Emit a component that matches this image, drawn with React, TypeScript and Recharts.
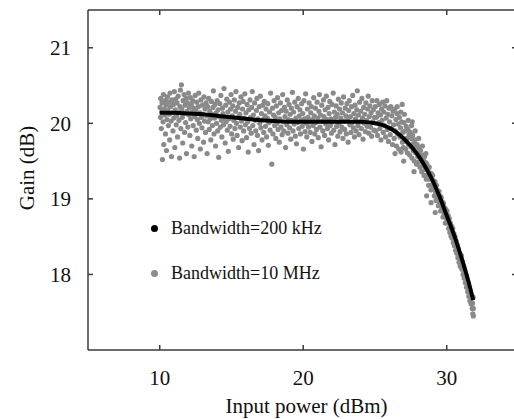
import React from 'react';
import { ComposedChart, Scatter, XAxis, YAxis } from 'recharts';

// Bandwidth = 200 kHz (dense trace, drawn as a thick curve)
const narrowBand: [number, number][] = [
    [10, 20.14], [11, 20.14], [12, 20.13], [13, 20.12], [14, 20.1], [15, 20.08], [16, 20.06], [17, 20.04],
    [18, 20.03], [19, 20.02], [20, 20.02], [21, 20.02], [22, 20.02], [23, 20.02], [24, 20.02], [25, 20.0],
    [25.5, 19.98], [26, 19.94], [26.5, 19.88], [27, 19.8], [27.5, 19.7], [28, 19.58], [28.5, 19.43], [29, 19.25],
    [29.5, 19.03], [30, 18.78], [30.5, 18.53], [31, 18.24], [31.5, 17.92], [31.85, 17.66],
];

// Bandwidth = 10 MHz scatter, 10-12.5 dBm
const wideBandA: [number, number][] = [
    [10.02, 20.21], [10.05, 20.08], [10.07, 20.33], [10.11, 19.93], [10.14, 20.15], [10.16, 20.27], [10.19, 19.52], [10.23, 20.02],
    [10.26, 20.38], [10.28, 19.72], [10.31, 20.19], [10.35, 20.11], [10.38, 20.3], [10.4, 19.86], [10.44, 20.24], [10.47, 19.64],
    [10.5, 20.05], [10.53, 20.35], [10.56, 20.17], [10.6, 19.97], [10.62, 20.28], [10.66, 20.12], [10.69, 19.78], [10.72, 20.4],
    [10.75, 20.22], [10.79, 20.03], [10.82, 19.56], [10.85, 20.31], [10.88, 20.14], [10.92, 19.9], [10.95, 20.25], [10.98, 20.07],
    [11.02, 20.42], [11.05, 19.68], [11.08, 20.18], [11.11, 20.32], [11.15, 19.98], [11.18, 20.1], [11.21, 20.27], [11.24, 19.82],
    [11.28, 20.36], [11.31, 20.15], [11.34, 20.04], [11.38, 19.54], [11.41, 20.22], [11.44, 20.44], [11.47, 19.93], [11.51, 20.51],
    [11.54, 20.19], [11.57, 20.08], [11.6, 19.74], [11.63, 20.3], [11.67, 20.13], [11.7, 20.38], [11.73, 19.88], [11.76, 20.24],
    [11.8, 20.01], [11.83, 20.33], [11.86, 19.6], [11.9, 20.16], [11.93, 20.27], [11.96, 19.95], [12.0, 20.4], [12.03, 20.11],
    [12.06, 20.21], [12.1, 19.84], [12.13, 20.34], [12.16, 20.06], [12.2, 20.25], [12.23, 19.7], [12.27, 20.15], [12.3, 20.3],
    [12.33, 19.97], [12.37, 20.2], [12.4, 19.56], [12.44, 20.09], [12.47, 20.37],
];

// 12.5-16 dBm
const wideBandB: [number, number][] = [
    [12.51, 20.17], [12.55, 19.91], [12.58, 20.28], [12.62, 20.05], [12.65, 19.8], [12.69, 20.22], [12.72, 20.4], [12.76, 20.0],
    [12.8, 20.14], [12.83, 19.66], [12.87, 20.31], [12.9, 20.08], [12.94, 19.94], [12.98, 20.24], [13.01, 20.12], [13.05, 19.75],
    [13.08, 20.35], [13.12, 20.03], [13.16, 20.19], [13.19, 19.88], [13.23, 20.27], [13.27, 20.1], [13.3, 19.6], [13.34, 20.22],
    [13.38, 20.02], [13.41, 20.33], [13.45, 19.92], [13.49, 20.16], [13.52, 20.06], [13.56, 19.78], [13.6, 20.29], [13.63, 20.12],
    [13.67, 19.97], [13.71, 20.21], [13.74, 20.43], [13.78, 19.86], [13.82, 20.07], [13.85, 20.25], [13.89, 19.7], [13.93, 20.14],
    [13.96, 20.0], [14.0, 20.3], [14.04, 19.9], [14.07, 20.18], [14.11, 19.55], [14.15, 20.09], [14.19, 20.26], [14.22, 19.95],
    [14.26, 20.37], [14.3, 20.04], [14.33, 19.82], [14.37, 20.2], [14.41, 20.13], [14.45, 19.98], [14.48, 20.46], [14.52, 20.08],
    [14.56, 19.74], [14.6, 20.24], [14.63, 20.02], [14.67, 20.32], [14.71, 19.91], [14.75, 20.15], [14.78, 19.63], [14.82, 20.06],
    [14.86, 20.28], [14.9, 19.96], [14.94, 20.19], [14.97, 20.38], [15.01, 19.86], [15.05, 20.1], [15.09, 20.23], [15.12, 19.79],
    [15.16, 20.04], [15.2, 20.31], [15.24, 19.93], [15.28, 20.16], [15.31, 20.42], [15.35, 20.0], [15.39, 19.84], [15.43, 20.21],
    [15.47, 20.08], [15.5, 19.68], [15.54, 20.27], [15.58, 20.12], [15.62, 19.95], [15.66, 20.35], [15.7, 20.03], [15.74, 19.77],
    [15.77, 20.19], [15.81, 20.29], [15.85, 19.9], [15.89, 20.07], [15.93, 20.39], [15.97, 19.98],
];

// 16-20.5 dBm
const wideBandC: [number, number][] = [
    [16.01, 20.14], [16.05, 19.81], [16.09, 20.25], [16.13, 20.02], [16.17, 19.62], [16.21, 20.18], [16.25, 19.93], [16.29, 20.31],
    [16.33, 20.08], [16.37, 19.87], [16.41, 20.21], [16.45, 20.42], [16.49, 19.97], [16.53, 20.11], [16.57, 19.72], [16.61, 20.27],
    [16.65, 20.04], [16.69, 19.9], [16.73, 20.17], [16.77, 20.33], [16.81, 19.84], [16.85, 20.06], [16.89, 19.64], [16.93, 20.22],
    [16.97, 20.0], [17.01, 20.36], [17.05, 19.94], [17.09, 20.13], [17.13, 19.78], [17.17, 20.24], [17.21, 20.05], [17.25, 19.88],
    [17.29, 20.29], [17.33, 20.1], [17.37, 19.96], [17.41, 20.19], [17.45, 19.82], [17.49, 20.07], [17.53, 20.26], [17.57, 19.71],
    [17.61, 20.01], [17.65, 20.15], [17.69, 19.91], [17.73, 20.4], [17.77, 20.03], [17.81, 19.46], [17.85, 20.2], [17.89, 19.86],
    [17.93, 20.11], [17.97, 20.3], [18.01, 19.97], [18.05, 20.08], [18.09, 19.8], [18.13, 20.23], [18.17, 20.0], [18.21, 20.34],
    [18.25, 19.92], [18.29, 20.14], [18.33, 19.75], [18.37, 20.06], [18.41, 20.27], [18.45, 19.95], [18.49, 20.17], [18.53, 19.85],
    [18.57, 20.38], [18.61, 20.02], [18.65, 19.9], [18.69, 20.21], [18.73, 20.09], [18.77, 19.68], [18.81, 20.16], [18.85, 19.98],
    [18.89, 20.31], [18.93, 19.87], [18.97, 20.05], [19.01, 20.25], [19.05, 19.94], [19.09, 20.12], [19.13, 19.79], [19.17, 20.2],
    [19.21, 20.04], [19.25, 20.41], [19.29, 19.9], [19.33, 20.15], [19.37, 19.99], [19.41, 20.28], [19.45, 19.83], [19.49, 20.07],
    [19.53, 19.73], [19.57, 20.22], [19.61, 20.01], [19.65, 20.33], [19.69, 19.93], [19.73, 20.1], [19.77, 20.18], [19.81, 19.86],
    [19.85, 20.04], [19.89, 20.26], [19.93, 19.96], [19.97, 20.13], [20.01, 19.66], [20.05, 20.3], [20.09, 20.06], [20.13, 19.89],
    [20.17, 20.39], [20.21, 20.0], [20.25, 19.82], [20.29, 20.19], [20.33, 20.08], [20.37, 19.95], [20.41, 20.27], [20.45, 20.02],
];

// 20.5-25 dBm
const wideBandD: [number, number][] = [
    [20.49, 19.88], [20.53, 20.14], [20.57, 20.22], [20.61, 19.76], [20.65, 20.05], [20.69, 19.97], [20.73, 20.34], [20.77, 20.1],
    [20.81, 19.86], [20.85, 20.2], [20.89, 20.01], [20.93, 19.92], [20.97, 20.28], [21.01, 20.07], [21.05, 19.81], [21.09, 20.16],
    [21.13, 20.38], [21.17, 19.95], [21.21, 20.11], [21.25, 19.69], [21.29, 20.24], [21.33, 20.03], [21.37, 19.9], [21.41, 20.31],
    [21.45, 20.09], [21.49, 19.84], [21.53, 20.18], [21.57, 19.99], [21.61, 20.36], [21.65, 20.05], [21.69, 19.93], [21.73, 20.21],
    [21.77, 19.78], [21.81, 20.13], [21.85, 20.29], [21.89, 19.97], [21.93, 20.06], [21.97, 19.87], [22.01, 20.25], [22.05, 20.02],
    [22.09, 20.4], [22.13, 19.91], [22.17, 20.15], [22.21, 19.72], [22.25, 20.08], [22.29, 20.23], [22.33, 19.96], [22.37, 20.12],
    [22.41, 19.83], [22.45, 20.32], [22.49, 20.0], [22.53, 20.19], [22.57, 19.89], [22.61, 20.07], [22.65, 20.27], [22.69, 19.95],
    [22.73, 20.14], [22.77, 19.8], [22.81, 20.35], [22.85, 20.03], [22.89, 19.92], [22.93, 20.2], [22.97, 20.1], [23.01, 19.86],
    [23.05, 20.26], [23.09, 20.04], [23.13, 19.75], [23.17, 20.17], [23.21, 20.3], [23.25, 19.98], [23.29, 20.09], [23.33, 19.88],
    [23.37, 20.22], [23.41, 20.01], [23.45, 20.37], [23.49, 19.94], [23.53, 20.13], [23.57, 19.82], [23.61, 20.24], [23.65, 20.06],
    [23.69, 19.9], [23.73, 20.18], [23.77, 20.43], [23.81, 19.97], [23.85, 20.11], [23.89, 19.85], [23.93, 20.28], [23.97, 20.02],
    [24.01, 20.16], [24.05, 19.93], [24.09, 20.33], [24.13, 20.07], [24.17, 19.79], [24.21, 20.21], [24.25, 20.0], [24.29, 20.12],
    [24.33, 19.89], [24.37, 20.27], [24.41, 20.04], [24.45, 19.96], [24.49, 20.19], [24.53, 20.36], [24.57, 19.87], [24.61, 20.09],
    [24.65, 20.23], [24.69, 19.95], [24.73, 20.14], [24.77, 19.83], [24.81, 20.3], [24.85, 20.02], [24.89, 20.18], [24.93, 19.91],
    [24.97, 20.08],
];

// knee 25-27 dBm
const wideBandE: [number, number][] = [
    [25.02, 20.22], [25.06, 19.9], [25.1, 20.08], [25.14, 20.3], [25.18, 19.84], [25.22, 20.14], [25.26, 20.01], [25.3, 20.25],
    [25.34, 19.93], [25.38, 20.11], [25.42, 19.78], [25.46, 20.19], [25.5, 20.04], [25.54, 20.28], [25.58, 19.88], [25.62, 20.15],
    [25.66, 19.97], [25.7, 20.23], [25.74, 19.82], [25.78, 20.07], [25.82, 20.3], [25.86, 19.92], [25.9, 20.12], [25.94, 19.76],
    [25.98, 20.2], [26.02, 20.02], [26.06, 19.85], [26.1, 20.22], [26.14, 19.93], [26.18, 20.1], [26.22, 19.72], [26.26, 20.16],
    [26.3, 19.98], [26.34, 19.8], [26.38, 20.19], [26.4, 19.6], [26.42, 19.9], [26.46, 20.05], [26.5, 19.7], [26.54, 20.13],
    [26.55, 20.22], [26.58, 19.86], [26.62, 19.99], [26.66, 19.66], [26.7, 20.08], [26.74, 19.82], [26.78, 19.94], [26.8, 20.15],
    [26.82, 19.62], [26.86, 20.02], [26.9, 20.25], [26.92, 19.75], [26.94, 19.88], [26.98, 19.68],
];

// compression 27-32 dBm
const wideBandF: [number, number][] = [
    [27.0, 19.5], [27.02, 20.01], [27.05, 20.12], [27.06, 19.76], [27.1, 19.9], [27.14, 19.66], [27.18, 19.96], [27.22, 19.8],
    [27.26, 19.61], [27.3, 19.92], [27.32, 20.04], [27.34, 19.72], [27.38, 19.85], [27.42, 19.58], [27.46, 19.88], [27.5, 19.69],
    [27.54, 19.8], [27.55, 19.97], [27.58, 19.54], [27.6, 20.02], [27.62, 19.84], [27.66, 19.64], [27.7, 19.74], [27.72, 19.36],
    [27.74, 19.5], [27.78, 19.78], [27.8, 19.9], [27.82, 19.61], [27.86, 19.7], [27.9, 19.46], [27.94, 19.72], [27.98, 19.56],
    [28.02, 19.68], [28.05, 19.8], [28.06, 19.49], [28.1, 19.62], [28.14, 19.42], [28.18, 19.64], [28.22, 19.51], [28.26, 19.36],
    [28.3, 19.58], [28.31, 19.7], [28.34, 19.44], [28.38, 19.53], [28.42, 19.31], [28.46, 19.56], [28.5, 19.39], [28.54, 19.48],
    [28.55, 19.6], [28.58, 19.26], [28.6, 19.04], [28.62, 19.46], [28.66, 19.32], [28.7, 19.4], [28.74, 19.18], [28.78, 19.42],
    [28.82, 19.26], [28.86, 19.34], [28.9, 19.12], [28.91, 18.95], [28.94, 19.33], [28.98, 19.19], [29.02, 19.31], [29.06, 19.14],
    [29.1, 19.24], [29.14, 19.04], [29.18, 19.23], [29.2, 18.82], [29.22, 19.09], [29.26, 18.98], [29.3, 19.18], [29.34, 19.03],
    [29.38, 19.11], [29.42, 18.91], [29.46, 19.1], [29.5, 18.96], [29.54, 19.04], [29.58, 18.84], [29.62, 19.02], [29.66, 18.89],
    [29.7, 18.96], [29.74, 18.76], [29.78, 18.94], [29.82, 18.8], [29.86, 18.88], [29.9, 18.68], [29.94, 18.86], [29.98, 18.74],
    [30.02, 18.84], [30.06, 18.68], [30.1, 18.78], [30.14, 18.61], [30.18, 18.74], [30.22, 18.56], [30.26, 18.68], [30.3, 18.51],
    [30.34, 18.64], [30.38, 18.48], [30.42, 18.61], [30.46, 18.42], [30.5, 18.54], [30.54, 18.38], [30.58, 18.5], [30.62, 18.32],
    [30.66, 18.44], [30.7, 18.28], [30.74, 18.39], [30.78, 18.22], [30.82, 18.34], [30.86, 18.16], [30.9, 18.28], [30.94, 18.11],
    [30.98, 18.22], [31.02, 18.25], [31.06, 18.07], [31.1, 18.17], [31.14, 18.0], [31.18, 18.11], [31.22, 17.95], [31.26, 18.05],
    [31.3, 17.89], [31.34, 17.99], [31.38, 17.83], [31.42, 17.93], [31.46, 17.77], [31.5, 17.87], [31.54, 17.71], [31.58, 17.81],
    [31.62, 17.65], [31.66, 17.75], [31.7, 17.61], [31.74, 17.69], [31.78, 17.55], [31.8, 17.62], [31.82, 17.48], [31.84, 17.7],
    [31.86, 17.55], [31.86, 17.45],
];

const xTicks = [10, 20, 30];
const yTicks = [18, 19, 20, 21];
const legendItems = [
    { label: 'Bandwidth=200 kHz', color: '#000' },
    { label: 'Bandwidth=10 MHz', color: '#8c8c8c' },
];

const FONT = '"Liberation Serif", "Times New Roman", serif';
const AXIS = '#3a3a3a';
const X_DOMAIN: [number, number] = [5, 34.9];
const Y_DOMAIN: [number, number] = [17, 21.5];

const toPoints = (rows: [number, number][]) => rows.map(([p, g]) => ({ p, g }));
const scatterData = toPoints([...wideBandA, ...wideBandB, ...wideBandC, ...wideBandD, ...wideBandE, ...wideBandF]);
const lineData = toPoints(narrowBand);

const GrayDot = (props: any) => <circle cx={props.cx} cy={props.cy} r={2.6} fill="#8a8a8a" />;
const NoDot = () => <g />;

const tickStyle = { fontSize: 21, fill: '#111', fontFamily: FONT };
const axisLine = { stroke: AXIS, strokeWidth: 1.5 };

export default function App() {
    return (
        <div style={{ position: 'relative', width: 514, height: 419, overflow: 'hidden', background: '#fff' }}>
            <style>{'body{margin:0}'}</style>
            <ComposedChart width={518} height={419} margin={{ top: 9, right: 0, bottom: 0, left: 0 }}>
                <XAxis xAxisId="b" dataKey="p" type="number" domain={X_DOMAIN} ticks={xTicks} allowDataOverflow
                    axisLine={axisLine} tickLine={axisLine} tickSize={-5} tickMargin={25} height={69} tick={tickStyle}
                    label={{ value: 'Input power (dBm)', position: 'insideBottom', offset: 6, dx: 4, style: { fontSize: 21, fill: '#111', fontFamily: FONT } }} />
                <XAxis xAxisId="t" orientation="top" dataKey="p" type="number" domain={X_DOMAIN} ticks={xTicks} allowDataOverflow
                    axisLine={axisLine} tickLine={axisLine} tickSize={-5} height={1} tickFormatter={() => ''} />
                <YAxis yAxisId="l" dataKey="g" type="number" domain={Y_DOMAIN} ticks={yTicks} allowDataOverflow
                    axisLine={axisLine} tickLine={axisLine} tickSize={-5} tickMargin={22} width={88} tick={tickStyle}
                    label={{
                        content: () => (
                            <text x={27} y={168} transform="rotate(-90 27 168)" textAnchor="middle" dominantBaseline="central"
                                style={{ fontSize: 21, fill: '#111', fontFamily: FONT }}>Gain (dB)</text>
                        ),
                    }} />
                <YAxis yAxisId="r" orientation="right" dataKey="g" type="number" domain={Y_DOMAIN} ticks={yTicks} allowDataOverflow
                    axisLine={axisLine} tickLine={axisLine} tickSize={-5} width={1} tickFormatter={() => ''} />
                <Scatter name="Bandwidth=10 MHz" xAxisId="b" yAxisId="l" data={scatterData} dataKey="g"
                    shape={GrayDot} isAnimationActive={false} />
                <Scatter name="Bandwidth=200 kHz" xAxisId="b" yAxisId="l" data={lineData} dataKey="g" shape={NoDot}
                    line={{ stroke: '#000', strokeWidth: 4 }} lineJointType="monotoneX" isAnimationActive={false} />
            </ComposedChart>
            <div style={{ position: 'absolute', left: 151, top: 215, fontFamily: FONT, fontSize: 18, color: '#111' }}>
                {legendItems.map(item => (
                    <div key={item.label} style={{ display: 'flex', alignItems: 'center', height: 26, marginBottom: 19 }}>
                        <span style={{ width: 7, height: 7, borderRadius: '50%', background: item.color, display: 'inline-block', marginRight: 13 }} />
                        <span>{item.label}</span>
                    </div>
                ))}
            </div>
        </div>
    );
}
